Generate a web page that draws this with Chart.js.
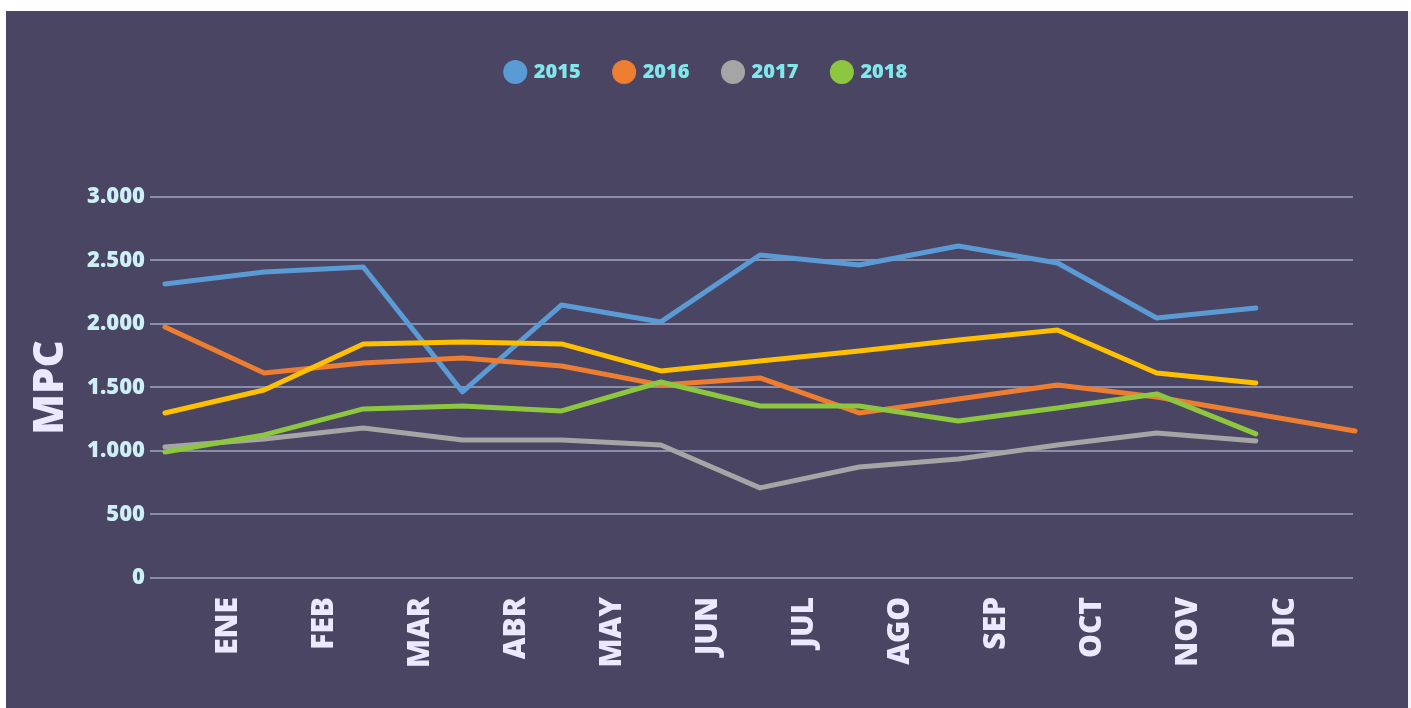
<!DOCTYPE html>
<html>
<head>
<meta charset="utf-8">
<script src="https://cdn.jsdelivr.net/npm/chart.js@4.4.1/dist/chart.umd.min.js"></script>
<style>
  html, body { margin: 0; padding: 0; background: #ffffff; width: 1411px; height: 708px; overflow: hidden; }
  #wrap { position: absolute; left: 6px; top: 11px; width: 1402px; height: 697px; background: #4a4562; }
  #strip { position: absolute; left: 1408px; top: 11px; width: 3px; height: 697px; background: #f3f3f8; }
</style>
</head>
<body>
<div id="wrap"><canvas id="c"></canvas></div>
<div id="strip"></div>
<script>
const months = ['ENE', 'FEB', 'MAR', 'ABR', 'MAY', 'JUN', 'JUL', 'AGO', 'SEP', 'OCT', 'NOV', 'DIC'];
const yTicks = [0, 500, 1000, 1500, 2000, 2500, 3000];
const seriesNames = ['2015', '2016', '2017', '2018', ''];
const s2015 = [2315, 2410, 2449, 1465, 2150, 2016, 2543, 2465, 2614, 2480, 2047, 2126];
const s2016 = [1976, 1614, 1693, 1732, 1669, 1520, 1575, 1299, 1409, 1520, 1425, 1291, 1157];
const s2017 = [1031, 1094, 1181, 1087, 1087, 1047, 709, 874, 937, 1047, 1142, 1079];
const s2018 = [992, 1126, 1331, 1354, 1315, 1543, 1354, 1354, 1236, 1339, 1449, 1134];
const sExtra = [1299, 1480, 1843, 1858, 1843, 1630, 1709, 1787, 1874, 1953, 1614, 1535];
const colors = ['#5b9bd5', '#ed7d31', '#a5a5a5', '#8dc63f', '#ffc000'];

const allSeries = [s2015, s2016, s2017, s2018, sExtra];
const zOrder = [4, 3, 2, 1, 0];

const FONT = '"Open Sans", "DejaVu Sans", sans-serif';
const legendColor = '#80e8ec';

const datasets = allSeries.map((arr, k) => ({
  label: seriesNames[k],
  data: arr.map((v, i) => ({ x: i, y: v })),
  borderColor: colors[k],
  backgroundColor: colors[k],
  borderWidth: 5,
  pointRadius: 0,
  pointHoverRadius: 0,
  tension: 0,
  borderCapStyle: 'round',
  borderJoinStyle: 'round',
  clip: false,
  order: zOrder[k]
}));

new Chart(document.getElementById('c'), {
  type: 'line',
  data: { datasets },
  options: {
    responsive: true,
    maintainAspectRatio: false,
    animation: false,
    events: [],
    layout: { padding: { top: 16, left: 0, right: 0, bottom: 21 } },
    plugins: {
      tooltip: { enabled: false },
      title: {
        display: true,
        text: '',
        weight: 500,
        font: { size: 10, lineHeight: 1 },
        padding: { top: 0, bottom: 95 }
      },
      legend: {
        display: true,
        position: 'top',
        labels: {
          usePointStyle: true,
          boxWidth: 17,
          boxHeight: 17,
          padding: 35,
          color: legendColor,
          font: { family: FONT, size: 20, weight: 800 },
          generateLabels: chart => chart.data.datasets.slice(0, 4).map((ds, i) => ({
            text: ds.label,
            fillStyle: ds.borderColor,
            strokeStyle: ds.borderColor,
            lineWidth: 0,
            pointStyle: 'circle',
            hidden: false,
            datasetIndex: i,
            fontColor: legendColor
          }))
        }
      }
    },
    scales: {
      x: {
        type: 'linear',
        display: false,
        min: -0.151,
        max: 11.98
      },
      x2: {
        type: 'linear',
        position: 'bottom',
        min: -0.812,
        max: 11.708,
        afterBuildTicks: axis => { axis.ticks = months.map((m, i) => ({ value: i })); },
        grid: { display: false, drawTicks: false },
        border: { display: false },
        ticks: {
          autoSkip: false,
          maxRotation: 90,
          minRotation: 90,
          padding: 19,
          color: '#ece8ff',
          font: { family: FONT, size: 30, weight: 800 },
          callback: v => months[v]
        }
      },
      y: {
        type: 'linear',
        min: 0,
        max: 3000,
        afterFit: axis => { axis.width = 144; },
        afterBuildTicks: axis => { axis.ticks = yTicks.map(v => ({ value: v })); },
        grid: { color: '#878fab', lineWidth: 2, drawTicks: false },
        border: { display: false },
        ticks: {
          padding: 5,
          color: '#cdeff7',
          font: { family: FONT, size: 22, weight: 800 },
          callback: v => v.toString().replace(/\B(?=(\d{3})+(?!\d))/g, '.')
        },
        title: {
          display: true,
          text: 'MPC',
          color: '#ece8ff',
          font: { family: FONT, size: 42, weight: 800, lineHeight: 1.2 },
          padding: { top: 20, bottom: 0 }
        }
      },
      yRight: {
        type: 'linear',
        position: 'right',
        min: 0,
        max: 3000,
        afterFit: axis => { axis.width = 55; },
        grid: { display: false, drawTicks: false },
        border: { display: false },
        ticks: { display: false }
      }
    }
  }
});
</script>
</body>
</html>
